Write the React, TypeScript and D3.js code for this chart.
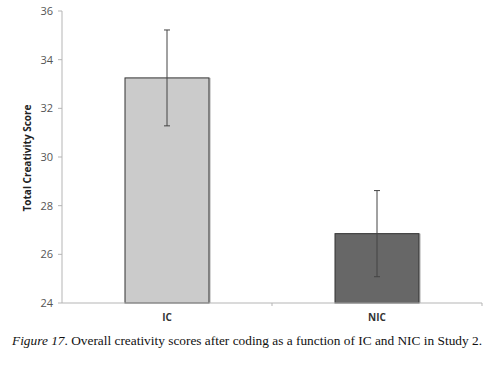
import React from 'react';
import * as d3 from 'd3';

const categories = ['IC', 'NIC'];
const means = [33.25, 26.85];
const errors = [1.97, 1.77];
const barColors = ['#cbcbcb', '#676767'];
const yTicks = [24, 26, 28, 30, 32, 34, 36];

const W = 500;
const H = 372;
const left = 62;
const right = 482;
const top = 11;
const bottom = 303;

const App: React.FC = () => {
  const x = d3.scaleBand<string>().domain(categories).range([left, right]).padding(0);
  const y = d3.scaleLinear().domain([24, 36]).range([bottom, top]);
  const barW = x.bandwidth() * 0.4;

  return (
    <svg width={W} height={H} style={{ position: 'absolute', left: 0, top: 0, background: '#fff' }}>
      {/* y axis */}
      <line x1={left} x2={left} y1={top} y2={bottom} stroke="#b5b5b5" strokeWidth={1} />
      {yTicks.map(t => (
        <g key={t}>
          <line x1={left - 4} x2={left} y1={y(t)} y2={y(t)} stroke="#b5b5b5" />
          <text x={left - 9} y={y(t)} dy="0.35em" textAnchor="end"
            fontFamily="'Open Sans', sans-serif" fontSize={11} fill="#555">{t}</text>
        </g>
      ))}
      <text transform={`translate(31,${(top + bottom) / 2 + 1}) rotate(-90)`} textAnchor="middle"
        fontFamily="'Open Sans', sans-serif" fontWeight="bold" fontSize={10} fill="#222">
        Total Creativity Score
      </text>

      {/* bars */}
      {categories.map((c, i) => {
        const cx = (x(c) ?? 0) + x.bandwidth() / 2;
        return (
          <g key={c}>
            <rect x={cx - barW / 2 + 2} y={y(means[i])} width={barW} height={bottom - y(means[i])} fill="#aaa" opacity={0.5} />
            <rect x={cx - barW / 2} y={y(means[i])} width={barW} height={bottom - y(means[i])}
              fill={barColors[i]} stroke="#333" strokeWidth={1} />
            <line x1={cx} x2={cx} y1={y(means[i] + errors[i])} y2={y(means[i] - errors[i])} stroke="#444" strokeWidth={1} />
            <line x1={cx - 3} x2={cx + 3} y1={y(means[i] + errors[i])} y2={y(means[i] + errors[i])} stroke="#444" />
            <line x1={cx - 3} x2={cx + 3} y1={y(means[i] - errors[i])} y2={y(means[i] - errors[i])} stroke="#444" />
            <text x={cx} y={bottom + 18} textAnchor="middle" fontFamily="'Open Sans', sans-serif"
              fontWeight="bold" fontSize={10} fill="#333">{c}</text>
          </g>
        );
      })}

      {/* x axis */}
      <line x1={left} x2={right} y1={bottom} y2={bottom} stroke="#b5b5b5" />
      {[left + x.bandwidth(), right].map((t, i) => (
        <line key={i} x1={t} x2={t} y1={bottom} y2={bottom + 3} stroke="#b5b5b5" />
      ))}

      {/* caption */}
      <text x={12} y={345} fontFamily="'Liberation Serif', 'Times New Roman', serif" fontSize={13.5} fill="#111"
        textLength={470} lengthAdjust="spacingAndGlyphs">
        <tspan fontStyle="italic">Figure 17</tspan>. Overall creativity scores after coding as a function of IC and NIC in Study 2.
      </text>
    </svg>
  );
};

export default App;
